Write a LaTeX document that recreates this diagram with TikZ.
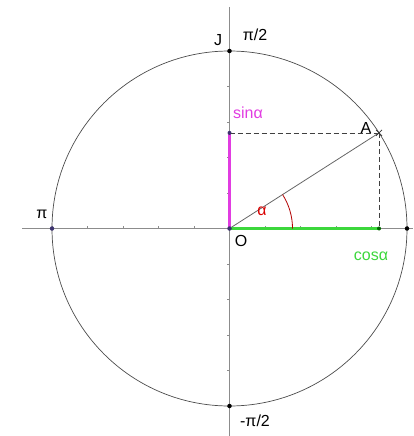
\documentclass[tikz,border=0pt]{standalone}
\usepackage{fontspec}
\setmainfont{Liberation Sans}
\usetikzlibrary{calc}
\definecolor{mag}{RGB}{225,60,225}
\definecolor{grn}{RGB}{60,215,60}
\definecolor{ptc}{RGB}{60,50,110}
\begin{document}
\begin{tikzpicture}[x=1pt,y=-1pt,
  axis/.style={draw=black!45,line width=0.9pt},
  tick/.style={draw=black!45,line width=0.6pt},
  circ/.style={draw=black!70,line width=0.7pt},
  dashln/.style={draw=black!75,line width=0.7pt,dash pattern=on 5pt off 3pt},
  lbl/.style={font=\fontsize{16}{16}\selectfont,inner sep=0pt},
  dot/.style={circle,fill=#1,inner sep=0pt,minimum size=4.5pt}]
\useasboundingbox (0,0) rectangle (413,436);
\def\R{177.5}
\coordinate (O) at (229.5,228.5);
% axes
\coordinate (xl) at (22,228.5);
\coordinate (xr) at (413,228.5);
\coordinate (yt) at (229.5,7);
\coordinate (yb) at (229.5,436);
\draw[axis] (xl) -- (xr);
\draw[axis] (yt) -- (yb);
\foreach \k in {-5,...,5}{
  \draw[tick] ($(O)+(\k*35.5,0)$) -- ++(0,-2.5);
  \draw[tick] ($(O)+(0,\k*35.5)$) -- ++(-2.5,0);
}
% circle
\draw[circ] (O) circle[radius=\R];
% points
\coordinate (A) at ($(O)+(-32.6:\R)$);
\path let \p1=(A), \p2=(O) in coordinate (C) at (\x1,\y2) coordinate (S) at (\x2,\y1);
% dashed
\draw[dashln] (S) -- (A);
\draw[dashln] (A) -- (C);
% radius
\draw[draw=black!60,line width=0.8pt] (O) -- (A);
% sin & cos
\draw[draw=mag,line width=2.2pt] (O) -- (S);
\draw[draw=grn,line width=2.2pt] (O) -- (C);
% angle arc
\draw[draw=red!70!black,line width=0.8pt] ($(O)+(63,0)$) arc[start angle=0,end angle=-32.6,radius=63];
\node[lbl,text=red!85!black] (alpha) at (262,211) {α};
% dots
\node[dot=ptc] (P) at ($(O)+(-\R,0)$) {};
\node[dot=black] (J) at ($(O)+(0,-\R)$) {};
\node[dot=black] (M) at ($(O)+(0,\R)$) {};
\node[dot=black] (R) at ($(O)+(\R,0)$) {};
\node[dot=ptc] (Od) at (O) {};
\node[dot=ptc,minimum size=4pt] (Sd) at (S) {};
\node[dot=green!40!black,minimum size=4pt] (Cd) at (C) {};
\draw[black!80,line width=0.7pt] ($(A)+(-3,-3)$) -- ($(A)+(3,3)$) ($(A)+(-3,3)$) -- ($(A)+(3,-3)$);
% labels
\node[lbl] (Jl) at (218,40) {J};
\node[lbl] (pi2) at (255,35) {π/2};
\node[lbl] (pil) at (42,214) {π};
\node[lbl] (Ol) at (241,241) {O};
\node[lbl] (mpi2) at (255,421) {-π/2};
\node[lbl] (Al) at (366,128) {A};
\node[lbl,text=mag] (sinl) at (248,113) {sinα};
\node[lbl,text=grn] (cosl) at (371,256) {cosα};
\end{tikzpicture}
\end{document}
